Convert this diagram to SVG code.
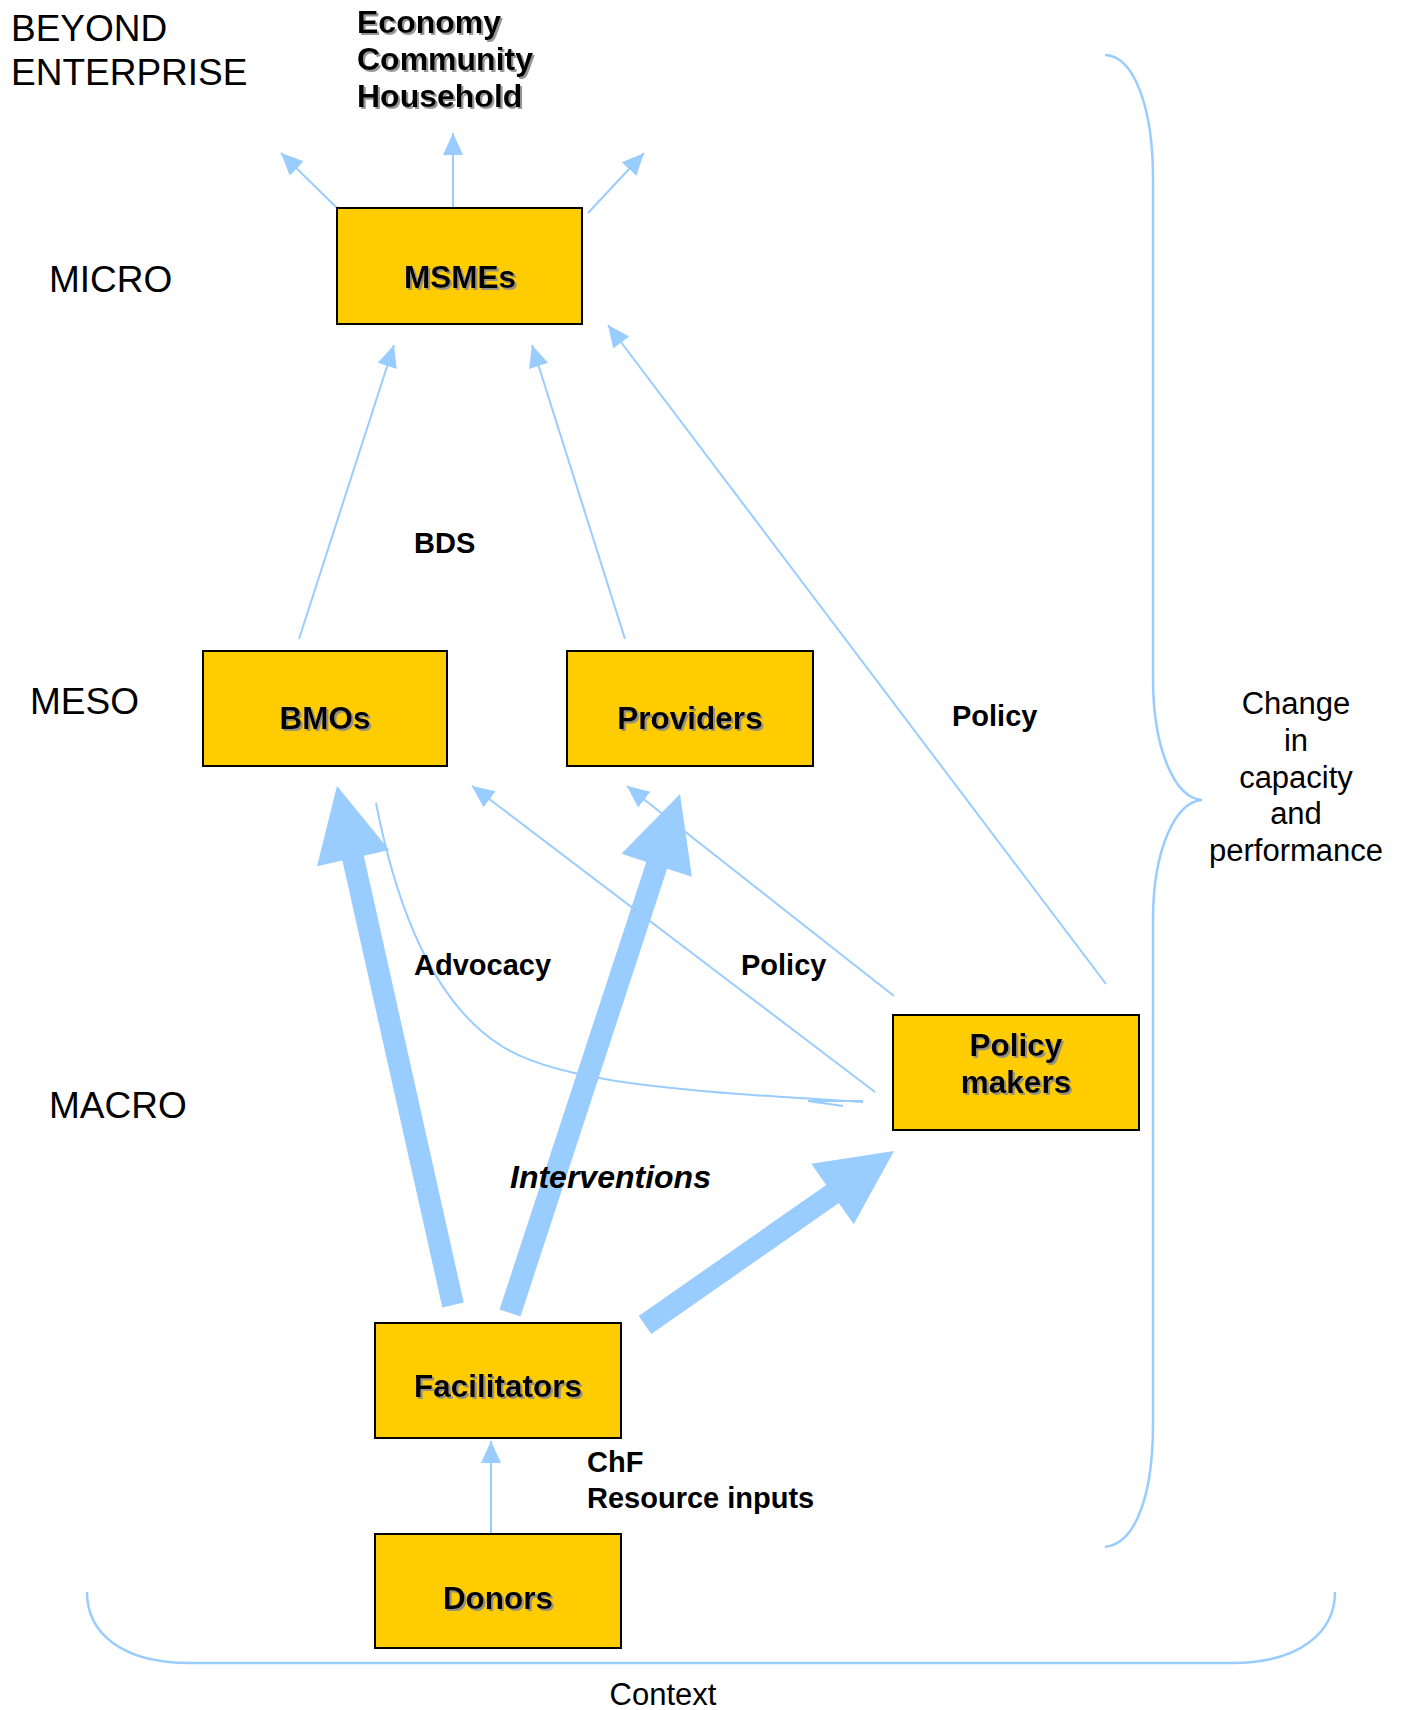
<svg xmlns="http://www.w3.org/2000/svg" width="1407" height="1710" viewBox="0 0 1407 1710">
<style>
.box{fill:#FFCC00;stroke:#000;stroke-width:2}
.nl{font-family:"Liberation Sans",Arial,sans-serif;font-weight:bold;font-size:31.5px;fill:#000;text-anchor:middle}
.lv{font-family:"Liberation Sans",Arial,sans-serif;font-size:37px;fill:#000}
.lb{font-family:"Liberation Sans",Arial,sans-serif;font-weight:bold;font-size:29px;fill:#000}
.rg{font-family:"Liberation Sans",Arial,sans-serif;font-size:31px;fill:#000;text-anchor:middle}
.thin{fill:none;stroke:#99CCFF;stroke-width:2}
.brace{fill:none;stroke:#99CCFF;stroke-width:2.5}
.thick{fill:#99CCFF;stroke:none}
</style>
<defs>
<marker id="ah" markerUnits="userSpaceOnUse" markerWidth="24" markerHeight="22" refX="22" refY="10" orient="auto">
<path d="M0,0 L22,10 L0,20 z" fill="#99CCFF"/>
</marker>
<filter id="sh" x="-10%" y="-20%" width="130%" height="150%">
<feDropShadow dx="2" dy="2" stdDeviation="0.3" flood-color="#8c8c8c" flood-opacity="0.9"/>
</filter>
</defs>

<g id="connectors">
<line class="thin" x1="337" y1="208" x2="281" y2="153" marker-end="url(#ah)"/>
<line class="thin" x1="453" y1="208" x2="453" y2="133" marker-end="url(#ah)"/>
<line class="thin" x1="588" y1="213" x2="644" y2="153" marker-end="url(#ah)"/>
<line class="thin" x1="299" y1="639" x2="394" y2="345" marker-end="url(#ah)"/>
<line class="thin" x1="625" y1="639" x2="532" y2="345" marker-end="url(#ah)"/>
<line class="thin" x1="1106" y1="984" x2="608" y2="325" marker-end="url(#ah)"/>
<line class="thin" x1="875" y1="1092" x2="472" y2="786" marker-end="url(#ah)"/>
<line class="thin" x1="894" y1="996" x2="627" y2="786" marker-end="url(#ah)"/>
<line class="thin" x1="491" y1="1534" x2="491" y2="1441" marker-end="url(#ah)"/>
<path class="thin" d="M376,803 C395,900 430,1000 500,1045 C560,1085 700,1092 863,1102"/>
<path class="thin" d="M863,1101 L808,1101 L843,1106"/>
<polygon class="thick" points="442.3,1307.4 342.4,860.6 317,866.3 337,786 389.2,850.1 363.8,855.8 463.7,1302.6"/>
<polygon class="thick" points="499.5,1309.6 646.3,861.9 621.5,853.8 680,794 691.9,876.8 667.1,868.7 520.5,1316.4"/>
<polygon class="thick" points="638.7,1316 826.2,1185 811.3,1163.7 894,1151 853.7,1224.3 838.8,1203 651.3,1334"/>
<path class="brace" d="M1105,55 C1135,56 1153,110 1153,178 L1153,678 C1153,750 1175,798 1202,800 C1175,802 1153,850 1153,920 L1153,1424 C1153,1490 1138,1543 1105,1547"/>
<path class="brace" d="M87,1592 C87,1632 120,1663 190,1663 L1232,1663 C1300,1663 1335,1632 1335,1592"/>
</g>

<g id="labels">
<text class="lv" x="11" y="41">BEYOND</text>
<text class="lv" x="11" y="85">ENTERPRISE</text>
<text class="lv" x="49" y="292">MICRO</text>
<text class="lv" x="30" y="714">MESO</text>
<text class="lv" x="49" y="1118">MACRO</text>
<g filter="url(#sh)">
<text class="lb" style="font-size:32px" x="357" y="33">Economy</text>
<text class="lb" style="font-size:32px" x="357" y="70">Community</text>
<text class="lb" style="font-size:32px" x="357" y="107">Household</text>
</g>
<text class="lb" x="414" y="553">BDS</text>
<text class="lb" x="952" y="726">Policy</text>
<text class="lb" x="414" y="975">Advocacy</text>
<text class="lb" x="741" y="975">Policy</text>
<text class="lb" style="font-style:italic;font-size:32px" x="510" y="1188">Interventions</text>
<text class="lb" x="587" y="1472">ChF</text>
<text class="lb" x="587" y="1508">Resource inputs</text>
<text class="rg" x="1296" y="714">Change</text>
<text class="rg" x="1296" y="751">in</text>
<text class="rg" x="1296" y="788">capacity</text>
<text class="rg" x="1296" y="824">and</text>
<text class="rg" x="1296" y="861">performance</text>
<text class="rg" x="663" y="1705">Context</text>
</g>

<g id="msmes">
<rect class="box" x="337" y="208" width="245" height="116"/>
<text class="nl" filter="url(#sh)" x="460" y="288">MSMEs</text>
</g>
<g id="bmos">
<rect class="box" x="203" y="651" width="244" height="115"/>
<text class="nl" filter="url(#sh)" x="325" y="729">BMOs</text>
</g>
<g id="providers">
<rect class="box" x="567" y="651" width="246" height="115"/>
<text class="nl" filter="url(#sh)" x="690" y="729">Providers</text>
</g>
<g id="policymakers">
<rect class="box" x="893" y="1015" width="246" height="115"/>
<text class="nl" filter="url(#sh)" x="1016" y="1056">Policy</text>
<text class="nl" filter="url(#sh)" x="1016" y="1093">makers</text>
</g>
<g id="facilitators">
<rect class="box" x="375" y="1323" width="246" height="115"/>
<text class="nl" filter="url(#sh)" x="498" y="1397">Facilitators</text>
</g>
<g id="donors">
<rect class="box" x="375" y="1534" width="246" height="114"/>
<text class="nl" filter="url(#sh)" x="498" y="1609">Donors</text>
</g>
</svg>
